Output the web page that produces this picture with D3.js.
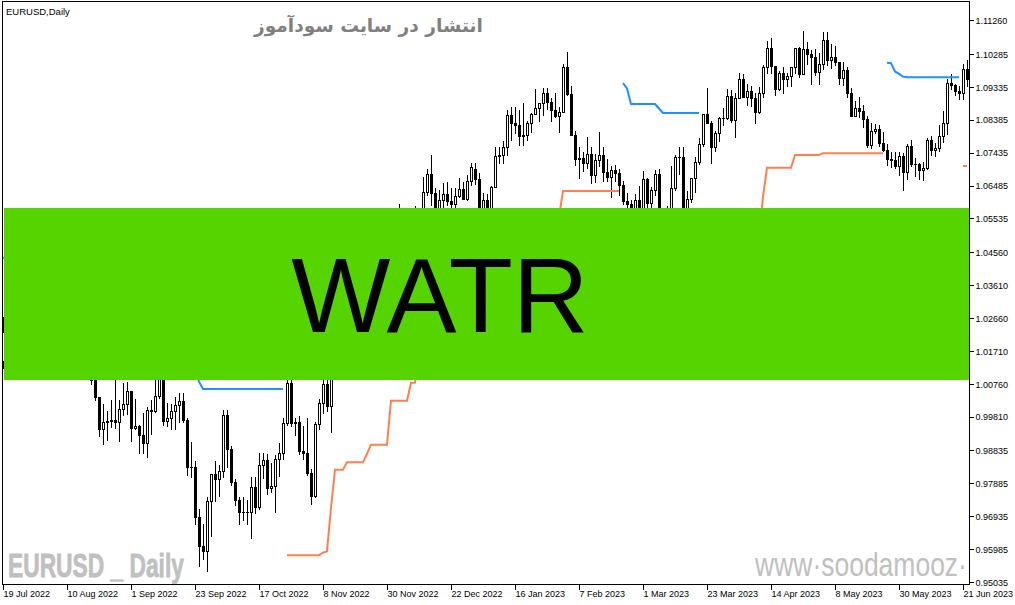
<!DOCTYPE html>
<html>
<head>
<meta charset="utf-8">
<script src="https://cdn.jsdelivr.net/npm/d3@7"></script>
<style>
html,body{margin:0;padding:0;background:#fff;overflow:hidden;}
svg{display:block;}
</style>
</head>
<body>
<svg id="chart" width="1015" height="605"></svg>
<script>
const n = null;
// EURUSD daily bars, 19 Jul 2022 .. 22 Jun 2023 (bar index 0..241)
const opens = [
1.0141,1.0226,1.0180,1.0229,1.0211,1.0224,1.0120,1.0198,1.0196,1.0221,
1.0260,1.0164,1.0167,1.0245,1.0181,1.0196,1.0212,1.0298,1.0320,1.0258,
1.0160,1.0170,1.0178,1.0088,1.0038,0.9944,0.9967,0.9969,0.9972,0.9965,
1.0003,1.0018,1.0054,0.9947,0.9955,0.9928,0.9904,1.0000,0.9997,1.0040,
1.0124,0.9968,0.9978,0.9998,1.0016,1.0025,0.9970,0.9837,0.9837,0.9690,
0.9607,0.9592,0.9736,0.9815,0.9802,0.9825,0.9986,0.9887,0.9792,0.9740,
0.9705,0.9705,0.9706,0.9779,0.9721,0.9841,0.9856,0.9775,0.9780,0.9860,
0.9876,0.9964,1.0077,0.9964,0.9965,0.9881,0.9876,0.9819,0.9752,0.9960,
1.0020,1.0074,1.0012,1.0208,1.0354,1.0325,1.0350,1.0384,1.0363,1.0324,
1.0243,1.0307,1.0395,1.0409,1.0398,1.0339,1.0328,1.0405,1.0522,1.0535,
1.0492,1.0466,1.0508,1.0555,1.0530,1.0538,1.0630,1.0681,1.0628,1.0584,
1.0606,1.0623,1.0605,1.0596,1.0618,1.0638,1.0611,1.0662,1.0695,1.0668,
1.0547,1.0606,1.0520,1.0645,1.0733,1.0737,1.0761,1.0853,1.0830,1.0822,
1.0791,1.0795,1.0830,1.0855,1.0871,1.0886,1.0916,1.0891,1.0868,1.0848,
1.0862,1.0990,1.0913,1.0795,1.0726,1.0728,1.0713,1.0740,1.0680,1.0722,
1.0738,1.0687,1.0673,1.0694,1.0686,1.0650,1.0605,1.0595,1.0545,1.0607,
1.0576,1.0667,1.0598,1.0635,1.0683,1.0547,1.0545,1.0582,1.0640,1.0731,
1.0731,1.0577,1.0610,1.0670,1.0716,1.0769,1.0855,1.0830,1.0760,1.0800,
1.0843,1.0843,1.0906,1.0839,1.0901,1.0955,1.0905,1.0922,1.0901,1.0861,
1.0915,1.0991,1.1047,1.0994,1.0927,1.0973,1.0957,1.0964,1.0990,1.1046,
1.0972,1.1043,1.1029,1.1020,1.0977,1.1000,1.1069,1.1011,1.1020,1.1004,
1.0960,1.0983,1.0915,1.0850,1.0873,1.0863,1.0840,1.0766,1.0805,1.0812,
1.0770,1.0750,1.0725,1.0722,1.0705,1.0735,1.0688,1.0762,1.0710,1.0712,
1.0692,1.0698,1.0780,1.0750,1.0756,1.0791,1.0830,1.0945,1.0940,1.0922,
1.0915,1.0985];
const highs = [
1.0269,1.0235,1.0278,1.0258,1.0255,1.0233,1.0218,1.0234,1.0254,1.0274,
1.0294,1.0211,1.0254,1.0248,1.0229,1.0249,1.0368,1.0364,1.0330,1.0265,
1.0202,1.0202,1.0191,1.0093,1.0039,1.0017,0.9998,1.0030,1.0090,1.0028,
1.0079,1.0080,1.0056,1.0033,0.9957,0.9992,1.0010,1.0029,1.0113,1.0198,
1.0188,1.0020,1.0017,1.0037,1.0050,1.0050,0.9976,0.9907,0.9852,0.9714,
0.9670,0.9749,0.9815,0.9853,0.9840,0.9999,0.9999,0.9895,0.9800,0.9748,
0.9749,0.9739,0.9807,0.9807,0.9875,0.9876,0.9874,0.9848,0.9871,0.9906,
0.9976,1.0093,1.0088,0.9976,0.9982,0.9954,0.9976,0.9829,0.9966,1.0033,
1.0094,1.0097,1.0222,1.0365,1.0362,1.0481,1.0423,1.0394,1.0385,1.0330,
1.0329,1.0407,1.0448,1.0434,1.0497,1.0394,1.0420,1.0545,1.0545,1.0594,
1.0512,1.0530,1.0563,1.0589,1.0548,1.0673,1.0695,1.0737,1.0642,1.0636,
1.0657,1.0658,1.0640,1.0641,1.0671,1.0658,1.0678,1.0714,1.0713,1.0684,
1.0628,1.0625,1.0648,1.0760,1.0761,1.0776,1.0868,1.0874,1.0874,1.0867,
1.0887,1.0835,1.0859,1.0927,1.0888,1.0929,1.0930,1.0900,1.0915,1.0875,
1.1000,1.1033,1.0935,1.0805,1.0760,1.0745,1.0790,1.0760,1.0740,1.0804,
1.0760,1.0726,1.0705,1.0709,1.0695,1.0663,1.0628,1.0606,1.0623,1.0646,
1.0691,1.0671,1.0645,1.0694,1.0695,1.0563,1.0588,1.0706,1.0736,1.0760,
1.0759,1.0633,1.0669,1.0730,1.0787,1.0856,1.0930,1.0834,1.0805,1.0845,
1.0871,1.0926,1.0925,1.0917,1.0973,1.0970,1.0942,1.0935,1.0915,1.0932,
1.0998,1.1066,1.1076,1.0995,1.0979,1.0992,1.0974,1.0990,1.1047,1.1048,
1.1095,1.1062,1.1041,1.1043,1.1032,1.1091,1.1092,1.1058,1.1052,1.1004,
1.1005,1.0990,1.0930,1.0893,1.0904,1.0880,1.0848,1.0829,1.0827,1.0824,
1.0802,1.0768,1.0745,1.0746,1.0745,1.0742,1.0768,1.0779,1.0727,1.0715,
1.0717,1.0786,1.0791,1.0772,1.0823,1.0865,1.0955,1.0971,1.0942,1.0935,
1.1000,1.1012];
const lows = [
1.0121,1.0160,1.0153,1.0131,1.0180,1.0095,1.0097,1.0113,1.0145,1.0197,
1.0161,1.0122,1.0150,1.0141,1.0160,1.0185,1.0202,1.0272,1.0239,1.0152,
1.0123,1.0157,1.0074,1.0030,0.9926,0.9901,0.9913,0.9952,0.9947,0.9912,
0.9985,0.9990,0.9910,0.9945,0.9877,0.9877,0.9864,0.9930,0.9995,1.0035,
0.9956,0.9955,0.9944,0.9945,0.9966,0.9966,0.9812,0.9807,0.9670,0.9550,
0.9569,0.9535,0.9635,0.9737,0.9751,0.9808,0.9836,0.9785,0.9727,0.9670,
0.9683,0.9670,0.9632,0.9703,0.9715,0.9805,0.9758,0.9764,0.9705,0.9809,
0.9858,0.9958,0.9954,0.9927,0.9872,0.9860,0.9813,0.9730,0.9749,0.9945,
0.9993,0.9997,0.9936,1.0191,1.0270,1.0313,1.0342,1.0289,1.0321,1.0226,
1.0223,1.0277,1.0381,1.0364,1.0322,1.0290,1.0289,1.0393,1.0428,1.0481,
1.0444,1.0444,1.0500,1.0511,1.0508,1.0519,1.0622,1.0592,1.0555,1.0575,
1.0567,1.0592,1.0573,1.0586,1.0615,1.0609,1.0608,1.0651,1.0653,1.0519,
1.0544,1.0516,1.0483,1.0643,1.0713,1.0714,1.0737,1.0780,1.0800,1.0766,
1.0766,1.0780,1.0802,1.0855,1.0835,1.0853,1.0869,1.0835,1.0846,1.0802,
1.0860,1.0910,1.0794,1.0708,1.0670,1.0691,1.0700,1.0655,1.0660,1.0705,
1.0661,1.0661,1.0614,1.0662,1.0620,1.0595,1.0577,1.0533,1.0542,1.0571,
1.0575,1.0580,1.0584,1.0620,1.0547,1.0524,1.0542,1.0560,1.0635,1.0681,
1.0516,1.0551,1.0600,1.0630,1.0711,1.0763,1.0830,1.0713,1.0747,1.0778,
1.0823,1.0840,1.0831,1.0789,1.0900,1.0903,1.0880,1.0878,1.0830,1.0859,
1.0905,1.0973,1.0973,1.0910,1.0925,1.0916,1.0937,1.0936,1.0973,1.0963,
1.0970,1.1000,1.0943,1.0968,1.0942,1.0986,1.0998,1.0988,1.0996,1.0942,
1.0940,1.0905,1.0850,1.0850,1.0846,1.0818,1.0760,1.0758,1.0800,1.0762,
1.0748,1.0708,1.0703,1.0700,1.0680,1.0635,1.0667,1.0706,1.0675,1.0668,
1.0664,1.0695,1.0737,1.0734,1.0747,1.0774,1.0797,1.0926,1.0910,1.0898,
1.0899,1.0937];
const closes = [
1.0226,1.0180,1.0229,1.0211,1.0224,1.0120,1.0198,1.0196,1.0221,1.0260,
1.0164,1.0167,1.0245,1.0181,1.0196,1.0212,1.0298,1.0320,1.0258,1.0160,
1.0170,1.0178,1.0088,1.0038,0.9944,0.9967,0.9969,0.9972,0.9965,1.0003,
1.0018,1.0054,0.9947,0.9955,0.9928,0.9904,1.0000,0.9997,1.0040,1.0124,
0.9968,0.9978,0.9998,1.0016,1.0025,0.9970,0.9837,0.9837,0.9690,0.9607,
0.9592,0.9736,0.9815,0.9802,0.9825,0.9986,0.9887,0.9792,0.9740,0.9705,
0.9705,0.9706,0.9779,0.9721,0.9841,0.9856,0.9775,0.9780,0.9860,0.9876,
0.9964,1.0077,0.9964,0.9965,0.9881,0.9876,0.9819,0.9752,0.9960,1.0020,
1.0074,1.0012,1.0208,1.0354,1.0325,1.0350,1.0384,1.0363,1.0324,1.0243,
1.0307,1.0395,1.0409,1.0398,1.0339,1.0328,1.0405,1.0522,1.0535,1.0492,
1.0466,1.0508,1.0555,1.0530,1.0538,1.0630,1.0681,1.0628,1.0584,1.0606,
1.0623,1.0605,1.0596,1.0618,1.0638,1.0611,1.0662,1.0703,1.0668,1.0547,
1.0606,1.0520,1.0645,1.0733,1.0737,1.0761,1.0853,1.0830,1.0822,1.0791,
1.0795,1.0830,1.0855,1.0871,1.0886,1.0916,1.0891,1.0868,1.0848,1.0862,
1.0990,1.0913,1.0795,1.0726,1.0728,1.0713,1.0740,1.0680,1.0722,1.0738,
1.0687,1.0673,1.0694,1.0686,1.0650,1.0605,1.0595,1.0545,1.0607,1.0576,
1.0667,1.0598,1.0635,1.0683,1.0547,1.0545,1.0582,1.0640,1.0731,1.0731,
1.0577,1.0610,1.0670,1.0716,1.0769,1.0855,1.0830,1.0760,1.0800,1.0843,
1.0843,1.0906,1.0839,1.0901,1.0955,1.0905,1.0922,1.0901,1.0861,1.0915,
1.0991,1.1047,1.0994,1.0927,1.0973,1.0957,1.0964,1.0990,1.1046,1.0972,
1.1043,1.1029,1.1020,1.0977,1.1000,1.1069,1.1011,1.1020,1.1004,1.0960,
1.0983,1.0915,1.0850,1.0873,1.0863,1.0840,1.0766,1.0805,1.0812,1.0770,
1.0750,1.0725,1.0722,1.0705,1.0735,1.0688,1.0762,1.0710,1.0712,1.0692,
1.0698,1.0780,1.0750,1.0756,1.0791,1.0830,1.0945,1.0940,1.0922,1.0915,
1.0985,1.0955];
// WATR trailing stop: blue (down-trend, above price) and coral (up-trend, below price)
const watrDown = [
1.0440,1.0440,1.0440,1.0440,1.0440,1.0440,1.0440,1.0440,1.0440,1.0440,
1.0440,1.0440,1.0440,1.0440,1.0440,1.0440,1.0440,1.0440,1.0440,1.0440,
1.0440,1.0440,1.0440,1.0300,1.0300,1.0300,1.0300,1.0300,1.0300,1.0300,
1.0300,1.0300,1.0300,1.0300,1.0300,1.0300,1.0300,1.0300,1.0300,1.0300,
1.0260,1.0260,1.0260,1.0260,1.0260,1.0260,1.0180,1.0180,1.0114,1.0082,
1.0061,1.0061,1.0061,1.0061,1.0061,1.0061,1.0061,1.0061,1.0061,1.0061,
1.0061,1.0061,1.0061,1.0061,1.0061,1.0061,1.0061,1.0061,1.0061,1.0061,
1.0061,n,n,n,n,n,n,n,n,n,
n,n,n,n,n,n,n,n,n,n,
n,n,n,n,n,n,n,n,n,n,
n,n,n,n,n,n,n,n,n,n,
n,n,n,n,n,n,n,n,n,n,
n,n,n,n,n,n,n,n,n,n,
n,n,n,n,n,n,n,n,n,n,
n,n,n,n,n,n,n,n,n,n,
n,n,n,n,n,1.0944,1.0929,1.0884,1.0884,1.0884,
1.0884,1.0884,1.0884,1.0884,1.0871,1.0858,1.0858,1.0858,1.0858,1.0858,
1.0858,1.0858,1.0858,1.0858,1.0858,n,n,n,n,n,
n,n,n,n,n,n,n,n,n,n,
n,n,n,n,n,n,n,n,n,n,
n,n,n,n,n,n,n,n,n,n,
n,n,n,n,n,n,n,n,n,n,
n,1.1003,1.1002,1.0978,1.0971,1.0963,1.0961,1.0961,1.0961,1.0961,
1.0961,1.0961,1.0961,1.0961,1.0961,1.0961,1.0961,1.0961,1.0961,1.0961,
n,n];
const watrUp = [
n,n,n,n,n,n,n,n,n,n,
n,n,n,n,n,n,n,n,n,n,
n,n,n,n,n,n,n,n,n,n,
n,n,n,n,n,n,n,n,n,n,
n,n,n,n,n,n,n,n,n,n,
n,n,n,n,n,n,n,n,n,n,
n,n,n,n,n,n,n,n,n,n,
n,0.9581,0.9581,0.9581,0.9581,0.9581,0.9581,0.9581,0.9581,0.9581,
0.9588,0.9592,0.9718,0.9828,0.9828,0.9828,0.9849,0.9849,0.9849,0.9849,
0.9849,0.9874,0.9900,0.9900,0.9900,0.9900,0.9900,1.0027,1.0027,1.0027,
1.0027,1.0027,1.0079,1.0079,1.0150,1.0150,1.0150,1.0150,1.0290,1.0290,
1.0290,1.0290,1.0290,1.0290,1.0290,1.0290,1.0290,1.0290,1.0290,1.0330,
1.0330,1.0330,1.0330,1.0330,1.0330,1.0330,1.0330,1.0480,1.0480,1.0480,
1.0480,1.0480,1.0480,1.0480,1.0480,1.0480,1.0480,1.0480,1.0480,1.0559,
1.0633,1.0633,1.0633,1.0633,1.0633,1.0633,1.0633,1.0633,1.0633,1.0633,
1.0633,1.0633,1.0633,1.0633,1.0633,n,n,n,n,n,
n,n,n,n,n,n,n,n,n,n,
n,n,n,n,n,1.0420,1.0420,1.0420,1.0420,1.0420,
1.0420,1.0500,1.0500,1.0500,1.0500,1.0500,1.0500,1.0500,1.0500,1.0500,
1.0616,1.0700,1.0700,1.0700,1.0700,1.0700,1.0700,1.0700,1.0737,1.0737,
1.0737,1.0737,1.0737,1.0737,1.0737,1.0742,1.0742,1.0742,1.0742,1.0742,
1.0742,1.0742,1.0742,1.0742,1.0742,1.0742,1.0742,1.0742,1.0742,1.0742,
1.0742,n,n,n,n,n,n,n,n,n,
n,n,n,n,n,n,n,n,n,n,
1.0705,1.0705];
const priceTicks = [1.11260,1.10285,1.09335,1.08385,1.07435,1.06485,1.05535,1.04560,1.03610,
  1.02660,1.01710,1.00760,0.99810,0.98835,0.97885,0.96935,0.95985,0.95035];
const dateTickIndex = [0,16,32,48,64,80,96,112,128,144,160,176,192,208,224,240];
const dateLabels = ["19 Jul 2022","10 Aug 2022","1 Sep 2022","23 Sep 2022","17 Oct 2022","8 Nov 2022",
  "30 Nov 2022","22 Dec 2022","16 Jan 2023","7 Feb 2023","1 Mar 2023","23 Mar 2023","14 Apr 2023",
  "8 May 2023","30 May 2023","21 Jun 2023"];
const chartLabel = "EURUSD,Daily";
const titleText = "انتشار در سایت سودآموز";
const bannerText = "WATR";
const symbolWatermark = "EURUSD _ Daily";
const siteWatermark = "www·soodamooz·";

// ---------------- drawing ----------------
const W = 1015, H = 605;
const plot = {left: 2, top: 1, right: 969, bottom: 584};
const svg = d3.select("#chart");
const x = d3.scaleLinear().domain([0, 241]).range([3, 967]);
const y = d3.scaleLinear().domain([0.95035, 1.11260]).range([582, 20.2]);
const axisFont = "'Liberation Sans', Arial, sans-serif";

svg.append("rect").attr("width", W).attr("height", H).attr("fill", "#fff");
svg.append("defs").append("clipPath").attr("id", "plotClip").append("rect")
  .attr("x", plot.left).attr("y", plot.top + 1)
  .attr("width", plot.right - plot.left).attr("height", plot.bottom - plot.top - 1);

const bars = d3.range(closes.length);
const plotG = svg.append("g").attr("clip-path", "url(#plotClip)");

// helper: squeeze a text horizontally to a target width using a transform
function squeeze(sel, x0, y0, targetWidth, measureChars) {
  const node = sel.node();
  const w = measureChars ? node.getSubStringLength(0, measureChars) : node.getComputedTextLength();
  const s = targetWidth / w;
  sel.attr("transform", `translate(${x0},${y0}) scale(${s},1)`);
}

// watermark symbol text
const sym = svg.append("text").text(symbolWatermark)
  .attr("x", 0).attr("y", 0)
  .attr("font-family", "'Liberation Sans', Arial, sans-serif").attr("font-weight", "bold")
  .attr("font-size", 33).attr("fill", "#c0c0c0")
  .attr("stroke", "#c0c0c0").attr("stroke-width", 0.8);
squeeze(sym, 8, 577, 176);

// site watermark (ends at the chart frame)
const site = svg.append("text").text(siteWatermark)
  .attr("x", 0).attr("y", 0)
  .attr("font-family", "'Liberation Sans', Arial, sans-serif")
  .attr("font-size", 34).attr("fill", "#c0c0c0");
squeeze(site, 755, 576, 212);

// candles
const candleG = plotG.append("g").attr("shape-rendering", "crispEdges");
const cxOf = i => Math.round(x(i));
candleG.selectAll("line.wick").data(bars).join("line").attr("class", "wick")
  .attr("x1", i => cxOf(i) + 0.5).attr("x2", i => cxOf(i) + 0.5)
  .attr("y1", i => Math.round(y(highs[i]))).attr("y2", i => Math.round(y(lows[i])) + 1)
  .attr("stroke", "#000").attr("stroke-width", 1);

bars.forEach(i => {
  const cx = cxOf(i);
  const yo = Math.round(y(opens[i])), yc = Math.round(y(closes[i]));
  if (closes[i] > opens[i] && yo - yc >= 1) {
    candleG.append("rect").attr("x", cx - 0.5).attr("y", yc + 0.5)
      .attr("width", 2).attr("height", yo - yc)
      .attr("fill", "#fff").attr("stroke", "#000").attr("stroke-width", 1);
  } else if (closes[i] < opens[i] && yc - yo >= 1) {
    candleG.append("rect").attr("x", cx - 1).attr("y", yo)
      .attr("width", 3).attr("height", yc - yo + 1).attr("fill", "#000");
  } else {
    candleG.append("rect").attr("x", cx - 1).attr("y", yo)
      .attr("width", 3).attr("height", 1).attr("fill", "#000");
  }
});

// WATR lines
const lineGen = d3.line().defined(d => d.v != null).x(d => x(d.i)).y(d => y(d.v));
plotG.append("path").datum(bars.map(i => ({i, v: watrDown[i]})))
  .attr("d", lineGen).attr("fill", "none").attr("stroke", "#1e90ff").attr("stroke-width", 2);
plotG.append("path").datum(bars.map(i => ({i, v: watrUp[i]})))
  .attr("d", lineGen).attr("fill", "none").attr("stroke", "#ff7f50").attr("stroke-width", 2);

// banner
svg.append("rect").attr("x", 4).attr("y", 208).attr("width", 965).attr("height", 172).attr("fill", "#55d400");
svg.append("text").text(bannerText)
  .attr("x", 440).attr("y", 332).attr("text-anchor", "middle")
  .attr("font-family", "'Liberation Sans', Arial, sans-serif").attr("font-size", 105).attr("fill", "#000");

// persian title
const title = svg.append("text").text(titleText)
  .attr("x", 0).attr("y", 32)
  .attr("font-family", "'DejaVu Sans', Tahoma, sans-serif").attr("font-weight", "bold")
  .attr("font-size", 20).attr("fill", "#808080");
{
  const w0 = title.node().getComputedTextLength();
  title.attr("font-size", 20 * 229 / w0);
  const bb = title.node().getBBox();
  title.attr("transform", `translate(${253 - bb.x},0)`);
}

// top-left label
svg.append("text").text(chartLabel).attr("x", 6).attr("y", 15)
  .attr("font-family", axisFont).attr("font-size", 9.5).attr("fill", "#000");

// frame
svg.append("rect").attr("x", plot.left + 0.5).attr("y", plot.top + 0.5)
  .attr("width", plot.right - plot.left).attr("height", plot.bottom - plot.top)
  .attr("fill", "none").attr("stroke", "#000").attr("stroke-width", 1).attr("shape-rendering", "crispEdges");

// price axis
const yAxis = d3.axisRight(y).tickValues(priceTicks).tickFormat(d3.format(".5f")).tickSize(4).tickSizeOuter(0);
const gy = svg.append("g").attr("transform", `translate(${plot.right + 0.5},0)`).call(yAxis)
  .attr("font-family", axisFont).attr("font-size", 9);
gy.select(".domain").remove();
gy.selectAll(".tick line").attr("stroke", "#000").attr("shape-rendering", "crispEdges");
gy.selectAll(".tick text").attr("x", 6).attr("dy", "0.36em").attr("fill", "#000");

// date axis
const xAxis = d3.axisBottom(x).tickValues(dateTickIndex).tickFormat((d, k) => dateLabels[k]).tickSize(5).tickSizeOuter(0);
const gx = svg.append("g").attr("transform", `translate(0,${plot.bottom + 0.5})`).call(xAxis)
  .attr("font-family", axisFont).attr("font-size", 9);
gx.select(".domain").remove();
gx.selectAll(".tick line").attr("stroke", "#000").attr("shape-rendering", "crispEdges");
gx.selectAll(".tick text").attr("text-anchor", "start").attr("x", 0).attr("y", 6).attr("fill", "#000");
</script>
</body>
</html>
